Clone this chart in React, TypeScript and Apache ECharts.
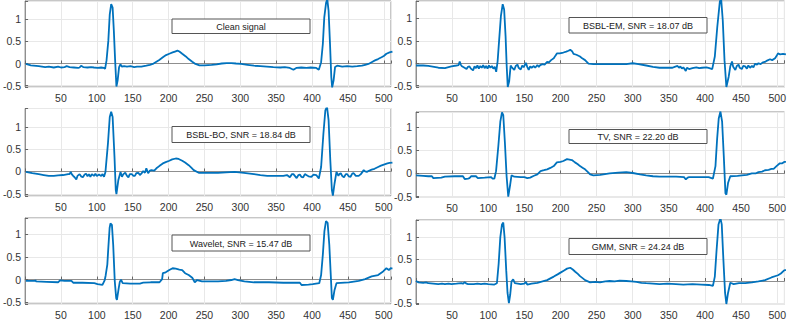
import React, { useEffect, useRef } from "react";
import * as echarts from "echarts";

// ---------- data (sample index, amplitude) ----------
const panelTitles = [
  "Clean signal",
  "BSBL-BO, SNR = 18.84 dB",
  "Wavelet, SNR = 15.47 dB",
  "BSBL-EM, SNR = 18.07 dB",
  "TV, SNR = 22.20 dB",
  "GMM, SNR = 24.24 dB",
];

const xTickValues = [50, 100, 150, 200, 250, 300, 350, 400, 450, 500];
const yTickValues = [-0.5, 0, 0.5, 1];

const cleanSignal = [
  [1,-0.01],[8,-0.04],[19,-0.06],[28,-0.08],[33,-0.07],[40,-0.09],[46,-0.07],[50,-0.09],[55,-0.08],[58,-0.06],[62,-0.08],[68,-0.09],[74,-0.1],[76,-0.09],[78,-0.05],[81,-0.08],[87,-0.09],[92,-0.08],[96,-0.09],[101,-0.1],[106,-0.09],[110,-0.1],[111.5,-0.12],[113.5,0.07],[116,0.51],[118,1.11],[120,1.34],[122,1.26],[123.7,0.74],[125.5,0.07],[127.3,-0.52],[129,-0.38],[131,-0.08],[132.8,-0.02],[135,-0.07],[138,-0.06],[142,-0.07],[147,-0.06],[152,-0.08],[156,-0.07],[162,-0.07],[169,-0.05],[174,-0.03],[178,-0.01],[183,0.04],[187,0.08],[192,0.14],[196.5,0.19],[201,0.22],[205.6,0.25],[209,0.27],[212.4,0.29],[215,0.27],[219,0.22],[224,0.16],[228,0.1],[233,0.04],[237.4,-0.01],[243,-0.04],[250,-0.04],[260,-0.03],[267,-0.02],[274,0],[281,0.01],[287.5,0.01],[294,0],[301,-0.01],[310,-0.03],[319,-0.05],[328,-0.06],[337,-0.07],[346,-0.08],[355.7,-0.09],[362,-0.08],[369,-0.1],[374,-0.14],[378,-0.1],[385,-0.09],[392,-0.1],[398,-0.09],[405.8,-0.1],[409.4,-0.14],[412.6,0.03],[415,0.44],[417,1.04],[419.5,1.37],[421.2,1.45],[423,1.19],[425,0.44],[426.8,-0.31],[428,-0.54],[430,-0.38],[432,-0.08],[435,-0.05],[442,-0.07],[449,-0.06],[456,-0.07],[463,-0.06],[469.5,-0.05],[474,-0.03],[478.6,-0.01],[483,0.03],[487.7,0.07],[492,0.1],[496.8,0.14],[500,0.17],[503.6,0.22],[508,0.25],[512,0.27],
];

const bsblBoSignal = [
  [1,-0.01],[10,-0.04],[19,-0.06],[26,-0.08],[33,-0.1],[40,-0.1],[46,-0.09],[53,-0.08],[60,-0.06],[62,-0.06],[63.6,-0.01],[65,-0.06],[67,-0.1],[69,-0.13],[71.4,-0.18],[73,-0.1],[76,-0.06],[78,-0.11],[80.5,-0.13],[83,-0.07],[85,-0.05],[87,-0.11],[89,-0.06],[91,-0.12],[93,-0.06],[96,-0.1],[98,-0.05],[100,-0.1],[103,-0.07],[106,-0.1],[108,-0.06],[110,-0.12],[112,-0.01],[115.5,0.63],[118,1.22],[120,1.34],[122,1.22],[124.6,0.33],[126.4,-0.42],[127.3,-0.51],[130,-0.19],[133,-0.01],[135,-0.12],[137,-0.06],[139.6,-0.03],[142,-0.1],[144,-0.13],[146,-0.06],[148.7,-0.06],[151,-0.1],[153,-0.1],[155,-0.04],[157.8,-0.03],[160,-0.08],[162,-0.05],[164.6,0.01],[167,-0.03],[169,0.07],[171.5,-0.04],[174,0.02],[176,0.03],[180,0.02],[183,0.07],[187,0.12],[192,0.18],[196,0.21],[201,0.24],[205,0.27],[210,0.29],[214,0.28],[219,0.24],[223,0.2],[228,0.14],[232,0.08],[235,0.03],[242,-0.03],[250,-0.03],[260,-0.03],[269,-0.03],[280,-0.02],[292,-0.01],[305,-0.03],[319,-0.06],[328,-0.08],[337.5,-0.1],[350,-0.1],[360,-0.1],[365,-0.08],[369,-0.13],[372,-0.06],[374,-0.06],[376,-0.1],[378.5,-0.15],[381,-0.08],[383,-0.07],[385,-0.12],[387.6,-0.13],[390,-0.06],[392,-0.08],[395,-0.11],[399,-0.12],[402,-0.07],[405.8,-0.08],[409.4,-0.16],[412.6,0.1],[415.8,0.85],[418.5,1.37],[420.8,1.45],[423,1.15],[425.4,0.25],[427.6,-0.42],[429,-0.54],[431.3,-0.27],[434,-0.01],[436.7,-0.1],[438,-0.06],[440,-0.04],[442,-0.1],[444.5,-0.13],[447,-0.06],[449,-0.06],[451,-0.11],[453.6,-0.12],[456,-0.05],[458,-0.04],[461,-0.1],[465,-0.1],[468,-0.06],[472,0.03],[474,0],[476.3,-0.01],[480,0.02],[483,0.04],[487,0.06],[492,0.1],[496,0.13],[501,0.16],[505,0.18],[508,0.19],[512,0.2],
];

const waveletSignal = [
  [1,-0.03],[14,-0.03],[14.5,-0.01],[15,-0.04],[30,-0.05],[46,-0.06],[48.6,-0.02],[55,-0.03],[64.6,-0.03],[67,-0.07],[80,-0.07],[96.4,-0.08],[101,-0.1],[107.8,-0.12],[111,-0.01],[112.3,0.09],[114.6,0.33],[116,0.7],[117.8,1.14],[119,1.24],[121,1.21],[122.8,0.77],[125,-0.04],[127,-0.41],[128,-0.45],[130.5,-0.19],[132,-0.05],[133.7,0.0],[136,-0.08],[146.5,-0.09],[160,-0.09],[164.6,-0.07],[175,-0.06],[187.4,-0.06],[191,0.01],[192,0.14],[196,0.16],[201,0.21],[205.6,0.25],[210,0.24],[215,0.22],[219,0.21],[223,0.14],[228,0.1],[233,0.04],[236.5,-0.06],[239.7,-0.01],[246.5,-0.04],[260,-0.04],[269,-0.04],[280,-0.03],[287.5,-0.01],[292,0.01],[296.6,-0.01],[305.7,-0.04],[319,-0.06],[340,-0.06],[360,-0.07],[383,-0.07],[385.3,-0.12],[395,-0.11],[401,-0.1],[410,-0.08],[412.6,0.1],[415,0.55],[417.2,1.07],[419.4,1.29],[421.7,1.25],[424,0.77],[425.8,0.18],[427.6,-0.41],[429,-0.45],[431.3,-0.23],[434,-0.08],[451.3,-0.06],[465,-0.03],[474,0.01],[483,0.07],[492,0.1],[499,0.18],[503.6,0.25],[507,0.21],[509.6,0.25],[512,0.24],
];

const bsblEmSignal = [
  [0,-0.05],[10,-0.05],[17,-0.06],[25,-0.08],[31,-0.1],[40,-0.11],[49,-0.07],[56,-0.05],[59,-0.04],[60.5,0.04],[62,-0.03],[63,-0.06],[66,-0.09],[70,-0.13],[72,-0.08],[74,-0.07],[76,-0.12],[79,-0.16],[81,-0.07],[83,-0.11],[85,-0.05],[87,-0.12],[89,-0.06],[91,-0.1],[93,-0.04],[95,-0.11],[97,-0.06],[99,-0.12],[101,-0.05],[103,-0.1],[105,-0.06],[107,-0.12],[109,-0.08],[111,-0.19],[113,0.05],[115,0.5],[117.5,1.05],[120,1.32],[122,1.2],[124,0.6],[125.5,-0.05],[127,-0.53],[129,-0.4],[131,-0.05],[133,-0.1],[136,-0.15],[138,-0.06],[140.5,-0.03],[142,-0.1],[145,-0.14],[147,-0.05],[149,-0.09],[152,0.01],[154,-0.08],[156,-0.15],[158,-0.07],[160,-0.1],[163,-0.06],[165,-0.1],[168,-0.04],[170,-0.08],[172,-0.04],[175,-0.02],[178,-0.03],[181.5,0.03],[184,0.02],[187,0.07],[190.7,0.11],[193,0.17],[195,0.22],[199,0.22],[204,0.24],[208,0.26],[211,0.28],[213.5,0.3],[216,0.27],[218,0.21],[222,0.19],[227,0.15],[230,0.11],[234,0.07],[238.7,-0.01],[245.5,-0.02],[260,-0.02],[280,-0.02],[291,-0.02],[300,0],[308,-0.02],[318.6,-0.05],[328,-0.08],[337,-0.1],[346,-0.1],[355,-0.1],[358,-0.08],[362,-0.06],[364,-0.1],[366,-0.07],[368,-0.12],[370,-0.09],[373.4,-0.17],[375,-0.1],[378,-0.13],[382.6,-0.11],[388,-0.09],[392,-0.11],[396,-0.1],[402,-0.09],[406,-0.11],[410,-0.13],[413.6,0.15],[417,0.81],[420.5,1.37],[422.3,1.45],[424.6,0.96],[427,0.07],[429.6,-0.53],[432.8,-0.3],[435,-0.07],[437.4,0.04],[439,-0.08],[442,-0.15],[444,-0.06],[446.5,-0.03],[448,-0.1],[451,-0.13],[453,-0.06],[455.6,-0.07],[458,-0.12],[460,-0.05],[462.5,-0.1],[465,-0.06],[467,-0.09],[469.4,-0.01],[472,-0.03],[474,0],[477,-0.02],[480,0.02],[483,0.03],[486,0.06],[490,0.09],[493,0.07],[497,0.11],[499,0.16],[501,0.22],[504,0.2],[508,0.21],[512,0.2],
];

const tvSignal = [
  [0,-0.04],[10,-0.05],[17,-0.06],[22,-0.06],[24,-0.1],[35,-0.09],[40,-0.07],[53.6,-0.06],[62.8,-0.06],[65,-0.06],[67.4,-0.12],[72,-0.11],[74,-0.1],[76.5,-0.06],[83,-0.06],[85.6,-0.1],[95,-0.09],[104,-0.08],[106,-0.11],[108.5,-0.11],[110.8,0.05],[114,0.6],[116.7,1.12],[119,1.32],[120.8,1.26],[123,0.68],[125.4,-0.06],[127.7,-0.5],[130,-0.28],[132.2,-0.04],[136,-0.07],[145,-0.08],[150,-0.08],[154,-0.1],[158,-0.09],[163.3,-0.05],[168,-0.02],[172.4,0.05],[177,0.07],[181.5,0.09],[186,0.12],[190.7,0.16],[195,0.24],[200,0.25],[204,0.27],[209,0.31],[215.8,0.29],[220,0.24],[224,0.2],[227,0.16],[231,0.12],[234,0.09],[238,0.03],[241,-0.02],[245.5,-0.04],[255,-0.03],[268,0],[280,0.02],[291,0.03],[300,0.01],[310,-0.02],[318.6,-0.04],[328,-0.06],[337,-0.07],[350,-0.07],[360,-0.07],[371,-0.08],[373.5,-0.13],[376,-0.09],[378,-0.08],[390,-0.08],[405,-0.08],[411,-0.11],[414.5,0.16],[416.8,0.75],[419,1.19],[421.4,1.34],[423.7,1.12],[426,0.38],[428.3,-0.43],[429.6,-0.46],[432,-0.2],[435,-0.06],[445,-0.05],[451,-0.04],[458,-0.03],[464.8,0],[470,0],[474,0.03],[479,0.04],[483,0.07],[488,0.08],[492,0.1],[495,0.1],[499,0.16],[503.6,0.22],[507,0.22],[509.6,0.25],[512,0.25],
];

const gmmSignal = [
  [0,0],[3.4,-0.03],[10,-0.04],[14,-0.03],[17,-0.05],[24,-0.06],[30.8,-0.07],[36,-0.06],[40,-0.07],[45,-0.06],[49,-0.07],[56,-0.06],[62.8,-0.05],[65,-0.06],[67.4,-0.03],[70,-0.06],[72,-0.07],[80,-0.07],[85,-0.06],[90,-0.07],[95,-0.06],[100,-0.07],[108.5,-0.08],[112,-0.05],[114.4,0.39],[116.7,0.99],[119,1.28],[120.8,1.32],[122.6,0.99],[124.9,0.24],[126.7,-0.27],[128.6,-0.5],[130.4,-0.31],[132.2,-0.01],[134.5,0.04],[136.8,-0.05],[145,-0.07],[150,-0.06],[152,-0.02],[154,-0.08],[160,-0.06],[168,-0.04],[175,-0.01],[181.5,0.02],[186,0.06],[190.7,0.1],[196,0.15],[200,0.19],[205,0.24],[209,0.28],[213.5,0.3],[217,0.26],[220.4,0.21],[224,0.16],[227,0.11],[231,0.06],[234,0.02],[241,-0.03],[248,-0.02],[254.6,-0.03],[262,-0.01],[268,0],[275,-0.01],[282,0.01],[291,0],[298,-0.01],[305,-0.02],[312,-0.04],[318.6,-0.05],[328,-0.06],[337,-0.07],[348,-0.06],[359.7,-0.07],[370,-0.08],[382.6,-0.07],[395,-0.08],[405.4,-0.09],[411,-0.11],[413.6,0.1],[416,0.69],[418.7,1.28],[421.4,1.42],[423.2,1.28],[425.5,0.47],[427.8,-0.27],[429.6,-0.52],[431.9,-0.27],[435,-0.04],[439.7,-0.07],[447,-0.05],[455.6,-0.05],[465,-0.03],[474,-0.01],[483,0.02],[492,0.08],[501,0.13],[505,0.17],[509.6,0.24],[512,0.25],
];

const panelSignals = [cleanSignal, bsblBoSignal, waveletSignal, bsblEmSignal, tvSignal, gmmSignal];
const yRanges = [
  [-0.53, 1.41],
  [-0.55, 1.41],
  [-0.54, 1.36],
  [-0.53, 1.39],
  [-0.52, 1.33],
  [-0.52, 1.38],
];
const xRange = [0, 510];

// ---------- layout (pixels) ----------
const gridBoxes = [
  { left: 20, top: 1, width: 371, height: 86 },
  { left: 20, top: 108.5, width: 371, height: 87.5 },
  { left: 20, top: 218, width: 371, height: 86 },
  { left: 416, top: 1, width: 372, height: 86 },
  { left: 416, top: 112, width: 372, height: 85.5 },
  { left: 416, top: 220, width: 372, height: 86 },
];
const labelBoxes = [
  { x: 172, y: 19, w: 138, h: 14.5 },
  { x: 172, y: 126.5, w: 138, h: 16 },
  { x: 172, y: 235, w: 138, h: 16 },
  { x: 569, y: 17.5, w: 138, h: 15.5 },
  { x: 569, y: 129.5, w: 138, h: 14 },
  { x: 569, y: 238.5, w: 138, h: 16 },
];

const FONT = "'Liberation Sans', Arial, Helvetica, sans-serif";
const LINE_COLOR = "#0072BD";

export default function App() {
  const ref = useRef<HTMLDivElement>(null);

  useEffect(() => {
    if (!ref.current) return;
    const chart = echarts.init(ref.current, undefined, { renderer: "svg" });

    const grid = gridBoxes.map((g) => ({
      ...g,
      show: true,
      borderColor: "#8f8f8f",
      borderWidth: 1,
      backgroundColor: "#fff",
    }));

    const xAxis = gridBoxes.map((_, i) => ({
      type: "value",
      gridIndex: i,
      min: xRange[0],
      max: xRange[1],
      interval: 50,
      axisLine: { show: true, lineStyle: { color: "#8f8f8f", width: 1 } },
      axisTick: { show: true, inside: true, length: 3, lineStyle: { color: "#666" } },
      splitLine: { show: true, lineStyle: { color: "#e8e8e8", width: 1 } },
      axisLabel: {
        show: true,
        fontSize: 10.5,
        fontFamily: FONT,
        color: "#333",
        margin: 5,
        showMinLabel: true,
        showMaxLabel: true,
        formatter: (v: number) => (xTickValues.includes(Math.round(v)) && Math.abs(v - Math.round(v)) < 1e-6 ? String(Math.round(v)) : ""),
      },
    }));

    const yAxis = gridBoxes.map((_, i) => ({
      type: "value",
      gridIndex: i,
      min: yRanges[i][0],
      max: yRanges[i][1],
      splitNumber: 4,
      axisLine: { show: true, lineStyle: { color: "#8f8f8f", width: 1 } },
      axisTick: { show: true, inside: true, length: 3, lineStyle: { color: "#666" } },
      splitLine: { show: true, lineStyle: { color: "#e8e8e8", width: 1 } },
      axisLabel: {
        show: true,
        fontSize: 10.5,
        fontFamily: FONT,
        color: "#333",
        margin: 4,
        formatter: (v: number) => {
          const hit = yTickValues.find((t) => Math.abs(t - v) < 1e-6);
          return hit === undefined ? "" : String(hit);
        },
      },
    }));

    const series = panelSignals.map((d, i) => ({
      type: "line",
      xAxisIndex: i,
      yAxisIndex: i,
      data: d,
      showSymbol: false,
      symbol: "none",
      clip: true,
      lineStyle: { color: LINE_COLOR, width: 1.8 },
      itemStyle: { color: LINE_COLOR },
      z: 3,
    }));

    const graphic: any[] = [];
    labelBoxes.forEach((b, i) => {
      graphic.push({
        type: "rect",
        z: 100,
        shape: { x: b.x, y: b.y, width: b.w, height: b.h },
        style: { fill: "#fff", stroke: "#555", lineWidth: 1 },
      });
      graphic.push({
        type: "text",
        z: 101,
        x: b.x + b.w / 2,
        y: b.y + b.h / 2 + 0.5,
        style: {
          text: panelTitles[i],
          fill: "#222",
          font: `9px ${FONT}`,
          align: "center",
          verticalAlign: "middle",
          textAlign: "center",
          textVerticalAlign: "middle",
        },
      });
    });

    chart.setOption({
      animation: false,
      backgroundColor: "#fff",
      grid,
      xAxis,
      yAxis,
      series,
      graphic,
    });

    return () => chart.dispose();
  }, []);

  return (
    <div
      ref={ref}
      style={{ position: "absolute", left: 0, top: 0, width: 789, height: 320 }}
    />
  );
}
